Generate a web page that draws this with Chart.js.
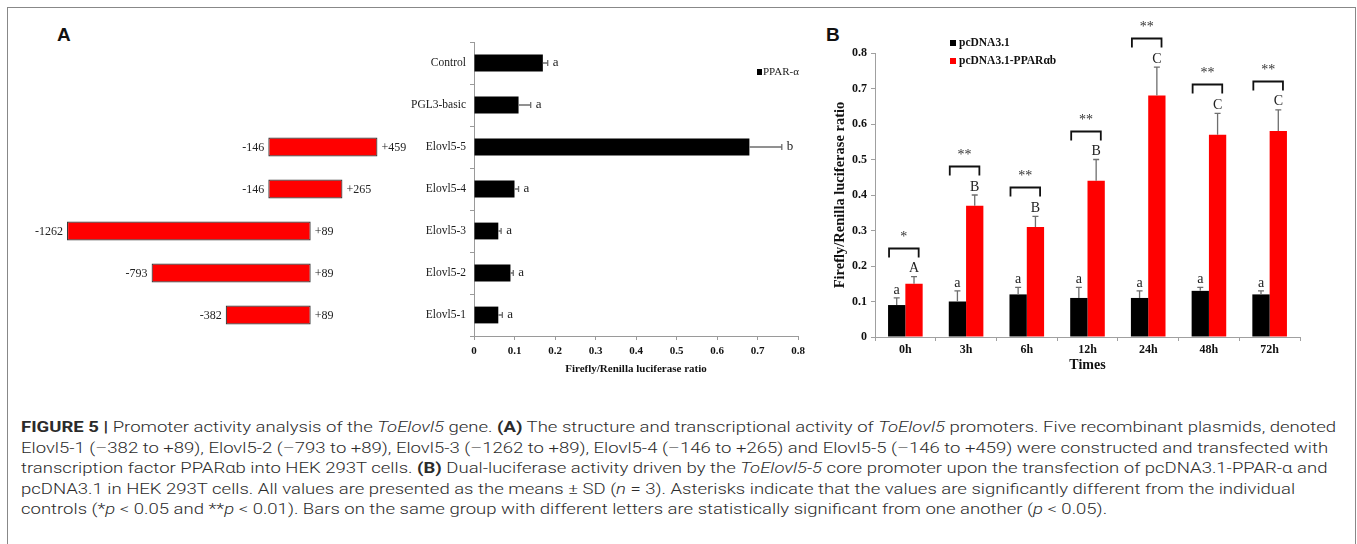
<!DOCTYPE html>
<html>
<head>
<meta charset="utf-8">
<script src="https://cdn.jsdelivr.net/npm/chart.js@4.4.1/dist/chart.umd.min.js"></script>
<style>
  body { margin: 0; width: 1357px; height: 544px; overflow: hidden; background: #fff; position: relative; }
  #frame { position: absolute; left: 7px; top: 7px; width: 1349px; height: 600px; border: 1.5px solid #888; box-sizing: border-box; }
  canvas { position: absolute; }
  .panel { position: absolute; font: bold 19px "Liberation Sans", Arial, sans-serif; color: #111; }
  #caption { position: absolute; left: 21px; top: 417px; font-family: Roboto, "Liberation Sans", sans-serif; font-weight: 300; font-size: 15.5px; color: #2b2b2b; }
  #caption div { white-space: nowrap; height: 20.5px; line-height: 20.5px; }
  #caption span { display: inline-block; transform-origin: left center; }
  #caption b { font-weight: 700; }
</style>
</head>
<body>
<div id="frame"></div>
<div class="panel" style="left:57px; top:24px;">A</div>
<div class="panel" style="left:826px; top:24px;">B</div>
<canvas id="diagram" width="451" height="294" style="left:6px; top:42px;"></canvas>
<canvas id="chartA" width="420" height="360" style="left:400px; top:30px;"></canvas>
<canvas id="chartB" width="480" height="360" style="left:832px; top:20px;"></canvas>
<div id="caption">
  <div><span><b>FIGURE 5 |</b> Promoter activity analysis of the <i>ToElovl5</i> gene. <b>(A)</b> The structure and transcriptional activity of <i>ToElovl5</i> promoters. Five recombinant plasmids, denoted</span></div>
  <div><span>Elovl5-1 (–382 to +89), Elovl5-2 (–793 to +89), Elovl5-3 (–1262 to +89), Elovl5-4 (–146 to +265) and Elovl5-5 (–146 to +459) were constructed and transfected with</span></div>
  <div><span>transcription factor PPARαb into HEK 293T cells. <b>(B)</b> Dual-luciferase activity driven by the <i>ToElovl5-5</i> core promoter upon the transfection of pcDNA3.1-PPAR-α and</span></div>
  <div><span>pcDNA3.1 in HEK 293T cells. All values are presented as the means ± SD (<i>n</i> = 3). Asterisks indicate that the values are significantly different from the individual</span></div>
  <div><span>controls (*<i>p</i> &lt; 0.05 and **<i>p</i> &lt; 0.01). Bars on the same group with different letters are statistically significant from one another (<i>p</i> &lt; 0.05).</span></div>
</div>
<script>
// panel A: promoter constructs
const constructs = ['Control', 'PGL3-basic', 'Elovl5-5', 'Elovl5-4', 'Elovl5-3', 'Elovl5-2', 'Elovl5-1'];
const fragStart = [null, null, -146, -146, -1262, -793, -382];
const fragEnd = [null, null, 459, 265, 89, 89, 89];
const ratioA = [0.17, 0.11, 0.68, 0.10, 0.06, 0.09, 0.06];
const sdA = [0.012, 0.03, 0.08, 0.01, 0.007, 0.007, 0.01];
const lettersA = ['a', 'a', 'b', 'a', 'a', 'a', 'a'];

// panel B: time course
const times = ['0h', '3h', '6h', '12h', '24h', '48h', '72h'];
const pcdna = [0.09, 0.10, 0.12, 0.11, 0.11, 0.13, 0.12];
const pcdnaSd = [0.02, 0.03, 0.02, 0.03, 0.02, 0.01, 0.01];
const ppar = [0.15, 0.37, 0.31, 0.44, 0.68, 0.57, 0.58];
const pparSd = [0.02, 0.03, 0.03, 0.06, 0.08, 0.06, 0.06];
const lettersPc = ['a', 'a', 'a', 'a', 'a', 'a', 'a'];
const lettersPpar = ['A', 'B', 'B', 'B', 'C', 'C', 'C'];
const signif = ['*', '**', '**', '**', '**', '**', '**'];

const SERIF = '"Liberation Serif", "Times New Roman", serif';

// error bars + letters, works for both horizontal and vertical bars
const errorBars = {
  id: 'errorBars',
  afterDatasetsDraw(chart, args, opts) {
    const ctx = chart.ctx;
    const horiz = chart.options.indexAxis === 'y';
    const vScale = horiz ? chart.scales.x : chart.scales.y;
    chart.data.datasets.forEach((ds, di) => {
      if (!ds.sd) return;
      chart.getDatasetMeta(di).data.forEach((bar, i) => {
        const v = ds.data[i];
        if (v == null) return;
        const end = vScale.getPixelForValue(v + ds.sd[i]);
        ctx.save();
        ctx.strokeStyle = '#6e6e6e';
        ctx.lineWidth = 1.3;
        ctx.beginPath();
        if (horiz) {
          ctx.moveTo(bar.x, bar.y); ctx.lineTo(end, bar.y);
          ctx.moveTo(end, bar.y - 3); ctx.lineTo(end, bar.y + 3);
        } else {
          ctx.moveTo(bar.x, bar.y); ctx.lineTo(bar.x, end);
          ctx.moveTo(bar.x - 3, end); ctx.lineTo(bar.x + 3, end);
        }
        ctx.stroke();
        ctx.fillStyle = '#222';
        ctx.font = opts.font;
        if (horiz) {
          ctx.textAlign = 'left'; ctx.textBaseline = 'middle';
          ctx.fillText(ds.letters[i], end + 5, bar.y);
        } else {
          ctx.textAlign = 'center'; ctx.textBaseline = 'bottom';
          ctx.fillText(ds.letters[i], bar.x, end - 1);
        }
        ctx.restore();
      });
    });
  }
};

// labels at both ends of the promoter fragments
const fragLabels = {
  id: 'fragLabels',
  afterDatasetsDraw(chart) {
    const ctx = chart.ctx;
    ctx.save();
    ctx.font = '12px ' + SERIF;
    ctx.fillStyle = '#222';
    ctx.textBaseline = 'middle';
    chart.getDatasetMeta(0).data.forEach((bar, i) => {
      if (fragStart[i] == null) return;
      const l = Math.min(bar.x, bar.base), r = Math.max(bar.x, bar.base);
      ctx.textAlign = 'right';
      ctx.fillText(String(fragStart[i]), l - 4, bar.y + 1);
      ctx.textAlign = 'left';
      ctx.fillText('+' + fragEnd[i], r + 4, bar.y + 1);
    });
    ctx.restore();
  }
};

new Chart(document.getElementById('diagram'), {
  type: 'bar',
  data: {
    labels: constructs,
    datasets: [{
      data: constructs.map((c, i) => fragStart[i] == null ? null : [fragStart[i], fragEnd[i]]),
      backgroundColor: '#ff0000',
      borderColor: '#3a3a3a',
      borderWidth: 1.2,
      borderSkipped: false,
      categoryPercentage: 1,
      barPercentage: 0.45
    }]
  },
  options: {
    indexAxis: 'y',
    responsive: false,
    animation: false,
    devicePixelRatio: 1,
    layout: { padding: 0 },
    plugins: { legend: { display: false }, tooltip: { enabled: false } },
    scales: {
      x: { display: false, min: -1600, max: 900 },
      y: { display: false }
    }
  },
  plugins: [fragLabels]
});

// small legend for panel A
const legendA = {
  id: 'legendA',
  afterDraw(chart) {
    const ctx = chart.ctx;
    ctx.save();
    ctx.fillStyle = '#000';
    ctx.fillRect(357, 39, 5, 6);
    ctx.font = '11px ' + SERIF;
    ctx.fillStyle = '#222';
    ctx.textBaseline = 'middle';
    ctx.fillText(chart.data.datasets[0].label, 363, 42);
    ctx.restore();
  }
};

new Chart(document.getElementById('chartA'), {
  type: 'bar',
  data: {
    labels: constructs,
    datasets: [{
      label: 'PPAR-α',
      data: ratioA,
      sd: sdA,
      letters: lettersA,
      backgroundColor: '#000',
      categoryPercentage: 0.4,
      barPercentage: 1
    }]
  },
  options: {
    indexAxis: 'y',
    responsive: false,
    animation: false,
    devicePixelRatio: 1,
    layout: { padding: { top: 12, right: 22, bottom: 14, left: 0 } },
    plugins: {
      legend: { display: false },
      tooltip: { enabled: false },
      errorBars: { font: '13px ' + SERIF }
    },
    scales: {
      x: {
        min: 0, max: 0.8,
        afterFit: s => { s.height = 40; },
        border: { color: '#9a9a9a' },
        grid: { drawOnChartArea: false, color: '#9a9a9a', tickLength: 4 },
        ticks: { stepSize: 0.1, padding: 5, color: '#111', font: { family: SERIF, size: 11, weight: 'bold' } },
        title: { display: true, text: 'Firefly/Renilla luciferase ratio', padding: 0, color: '#111',
                 font: { family: SERIF, size: 11, weight: 'bold' } }
      },
      y: {
        afterFit: s => { s.width = 74; },
        border: { color: '#9a9a9a' },
        grid: { drawOnChartArea: false, color: '#9a9a9a', tickLength: 4 },
        ticks: { padding: 4, color: '#1a1a1a', font: { family: SERIF, size: 11.5 } }
      }
    }
  },
  plugins: [errorBars, legendA]
});

// significance brackets above each pair in panel B
const brackets = {
  id: 'brackets',
  afterDatasetsDraw(chart) {
    const ctx = chart.ctx;
    const y = chart.scales.y;
    const m0 = chart.getDatasetMeta(0), m1 = chart.getDatasetMeta(1);
    ctx.save();
    times.forEach((t, i) => {
      const top = Math.max(pcdna[i] + pcdnaSd[i], ppar[i] + pparSd[i]);
      const by = Math.round(y.getPixelForValue(top) - 29) + 0.5;
      const b0 = m0.data[i], b1 = m1.data[i];
      const x0 = b0.x - b0.width / 2 + 1, x1 = b1.x + b1.width / 2 - 4;
      ctx.strokeStyle = '#111';
      ctx.lineWidth = 1.8;
      ctx.beginPath();
      ctx.moveTo(x0, by + 9); ctx.lineTo(x0, by); ctx.lineTo(x1, by); ctx.lineTo(x1, by + 9);
      ctx.stroke();
      ctx.fillStyle = '#333';
      ctx.font = '14px ' + SERIF;
      ctx.textAlign = 'center';
      ctx.textBaseline = 'middle';
      ctx.fillText(signif[i], (x0 + x1) / 2, by - 11);
    });
    ctx.restore();
  }
};

const legendB = {
  id: 'legendB',
  afterDraw(chart) {
    const ctx = chart.ctx;
    ctx.save();
    ctx.font = 'bold 11.5px ' + SERIF;
    ctx.textBaseline = 'middle';
    chart.data.datasets.forEach((ds, i) => {
      const ly = 23 + i * 18;
      ctx.fillStyle = ds.backgroundColor;
      ctx.fillRect(118, ly - 3, 6, 6);
      ctx.fillStyle = '#111';
      ctx.fillText(ds.label, 127, ly);
    });
    ctx.restore();
  }
};

new Chart(document.getElementById('chartB'), {
  type: 'bar',
  data: {
    labels: times,
    datasets: [
      { label: 'pcDNA3.1', data: pcdna, sd: pcdnaSd, letters: lettersPc, backgroundColor: '#000',
        categoryPercentage: 0.57, barPercentage: 1 },
      { label: 'pcDNA3.1-PPARαb', data: ppar, sd: pparSd, letters: lettersPpar, backgroundColor: '#ff0000',
        categoryPercentage: 0.57, barPercentage: 1 }
    ]
  },
  options: {
    responsive: false,
    animation: false,
    devicePixelRatio: 1,
    layout: { padding: { top: 33, right: 12, bottom: 6, left: 0 } },
    plugins: {
      legend: { display: false },
      tooltip: { enabled: false },
      errorBars: { font: '14px ' + SERIF }
    },
    scales: {
      x: {
        afterFit: s => { s.height = 37; },
        border: { color: '#a0a0a0' },
        grid: { drawOnChartArea: false, color: '#a0a0a0', tickLength: 4 },
        ticks: { padding: 2, color: '#111', font: { family: SERIF, size: 12, weight: 'bold' } },
        title: { display: true, text: 'Times', padding: 0, color: '#111',
                 font: { family: SERIF, size: 14, weight: 'bold' } }
      },
      y: {
        min: 0, max: 0.8,
        afterFit: s => { s.width = 43; },
        border: { color: '#a0a0a0' },
        grid: { drawOnChartArea: false, color: '#a0a0a0', tickLength: 4 },
        ticks: { stepSize: 0.1, padding: 4, color: '#111', font: { family: SERIF, size: 12, weight: 'bold' } },
        title: { display: true, text: 'Firefly/Renilla luciferase ratio', padding: 0, color: '#111',
                 font: { family: SERIF, size: 14.5, weight: 'bold' } }
      }
    }
  },
  plugins: [errorBars, brackets, legendB]
});

// squeeze caption lines to the reference text width, one factor for all lines
const spans = document.querySelectorAll('#caption span');
const k = 1315 / spans[0].getBoundingClientRect().width;
spans.forEach(s => { s.style.transform = 'scaleX(' + k + ')'; });
</script>
</body>
</html>
